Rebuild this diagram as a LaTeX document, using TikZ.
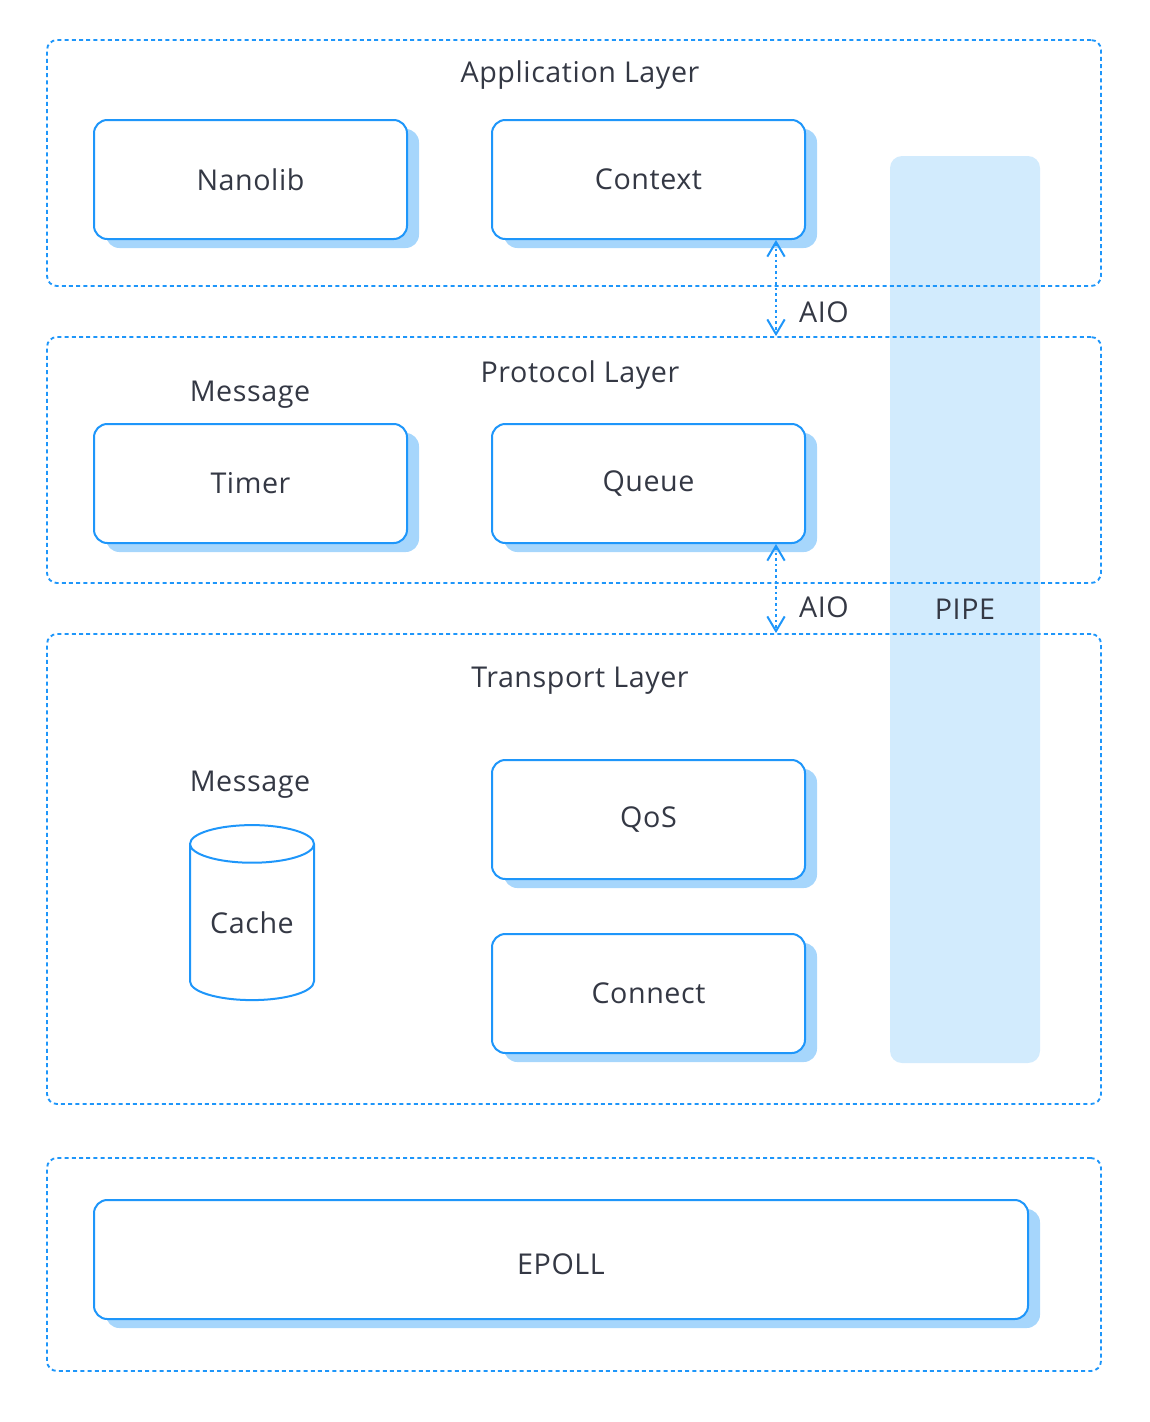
\documentclass[tikz,border=0pt]{standalone}
\usepackage{fontspec}
\setmainfont{Open Sans}[LetterSpace=2]
\usetikzlibrary{shapes.geometric, arrows.meta, positioning, calc, shadows}
\definecolor{lineblue}{HTML}{1E96FA}
\definecolor{shadeblue}{HTML}{A6D6FC}
\definecolor{pipeblue}{HTML}{D2EBFD}
\definecolor{textdark}{HTML}{343844}

\tikzset{
  layer/.style={draw=lineblue, line width=1.4pt, dash pattern=on 3pt off 2.4pt, rounded corners=7.5pt, minimum width=790.5pt, inner sep=0pt},
  module/.style={draw=lineblue, fill=white, line width=1.5pt, rounded corners=10pt, minimum width=234.75pt, minimum height=89.25pt, inner sep=0pt, text=textdark, font=\fontsize{21.5}{24}\selectfont, drop shadow={shadow xshift=9pt, shadow yshift=-6.75pt, fill=shadeblue, opacity=1}},
  label/.style={text=textdark, font=\fontsize{21.5}{24}\selectfont, inner sep=0pt},
  aio/.style={lineblue, line width=1.5pt, dash pattern=on 2pt off 2.2pt, {Straight Barb[length=11pt, width=13pt, line width=1.5pt]}-{Straight Barb[length=11pt, width=13pt, line width=1.5pt]}}
}

\begin{document}
\begin{tikzpicture}[x=0.75pt, y=-0.75pt]
  \useasboundingbox (0,0) rectangle (1150,1422);

  % PIPE column behind the layers
  \node[fill=pipeblue, rounded corners=9pt, minimum width=112.5pt, minimum height=680.25pt, text=textdark, font=\fontsize{21.5}{24}\selectfont] (pipe) at (965,609.5) {PIPE};

  % Layer frames
  \node[layer, minimum height=184.5pt] (applayer) at (574,163) {};
  \node[layer, minimum height=184.5pt] (protlayer) at (574,460) {};
  \node[layer, minimum height=352.5pt] (translayer) at (574,869) {};
  \node[layer, minimum height=159.75pt] (oslayer) at (574,1264.5) {};

  % Layer titles
  \node[label] (apptitle) at (580,75) {Application Layer};
  \node[label] (prottitle) at (580,375) {Protocol Layer};
  \node[label] (transtitle) at (580,681) {Transport Layer};

  % Application layer
  \node[module] (nanolib) at (250.5,179.5) {Nanolib};
  \node[module] (context) at (648.5,179.5) {Context};

  % Protocol layer
  \node[label] (protmsg) at (250,395) {Message};
  \node[module] (timer) at (250.5,483.5) {Timer};
  \node[module] (queue) at (648.5,483.5) {Queue};

  % Transport layer
  \node[label] (transmsg) at (250,785) {Message};
  \node[cylinder, shape border rotate=90, aspect=0.45, draw=lineblue, line width=1.5pt, minimum height=131.25pt, minimum width=93pt, inner sep=0pt, text=textdark, font=\fontsize{21.5}{24}\selectfont] (cache) at (252,922.5) {Cache};
  \node[module] (qos) at (648.5,819.5) {QoS};
  \node[module] (connect) at (648.5,993.5) {Connect};

  % Bottom layer
  \node[module, minimum width=700.5pt] (epoll) at (561,1259.5) {\raisebox{-11.5pt}[0pt][0pt]{EPOLL}};

  % AIO links
  \coordinate (aiox) at (776,0);
  \draw[aio] (context.south -| aiox) -- (protlayer.north -| aiox);
  \draw[aio] (queue.south -| aiox) -- (translayer.north -| aiox);
  \node[label] (aio1) at (824,312) {AIO};
  \node[label] (aio2) at (824,607) {AIO};
\end{tikzpicture}
\end{document}
